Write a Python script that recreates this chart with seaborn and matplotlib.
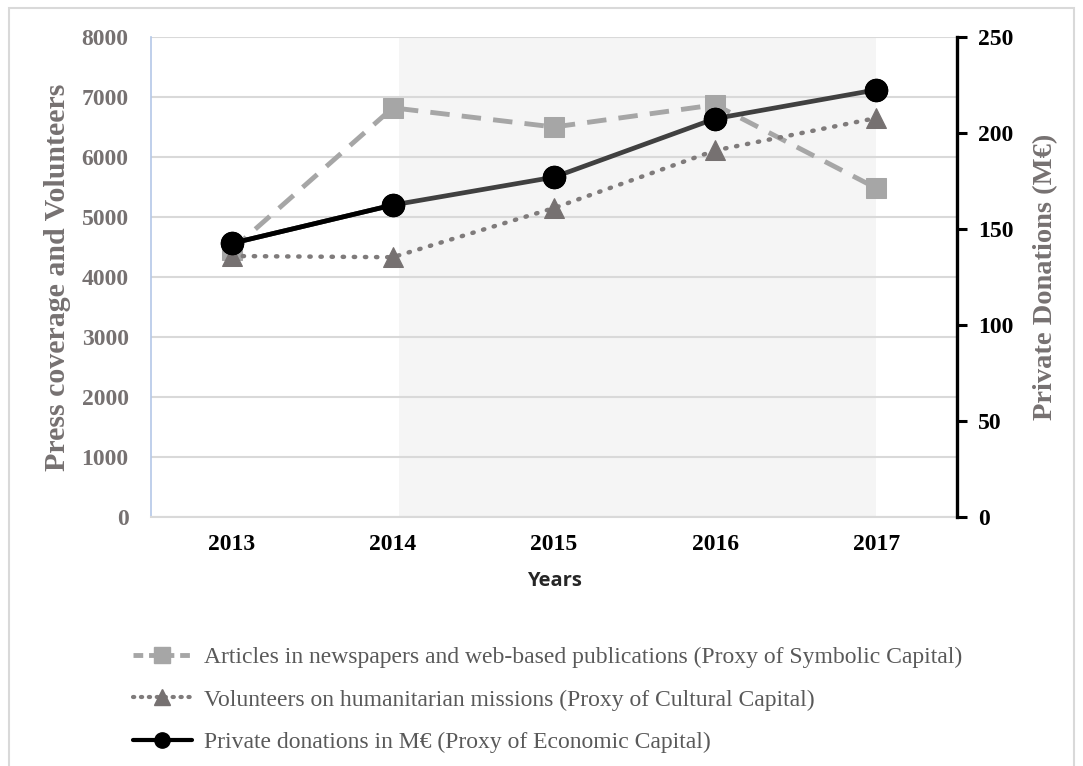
import matplotlib
matplotlib.use("Agg")
import matplotlib.pyplot as plt
import seaborn as sns
import pandas as pd
from matplotlib.lines import Line2D
from matplotlib.patches import Rectangle

years = [2013, 2014, 2015, 2016, 2017]
articles = [4450, 6820, 6500, 6870, 5480]
volunteers = [4350, 4330, 5150, 6110, 6650]
donations = [142.5, 162.5, 177, 207.5, 222.5]

label_articles = "Articles in newspapers and web-based publications (Proxy of Symbolic Capital)"
label_volunteers = "Volunteers on humanitarian missions (Proxy of Cultural Capital)"
label_donations = "Private donations in M€ (Proxy of Economic Capital)"

sns.set_theme(style="white")
plt.rcParams["font.family"] = ["Liberation Serif", "DejaVu Serif"]

df = pd.DataFrame({"year": years, "articles": articles,
                   "volunteers": volunteers, "donations": donations})

c_art = "#a6a6a6"
c_vol = "#7f7b7b"
c_vol_m = "#767171"
c_don = "#404040"
c_tick = "#767171"

fig = plt.figure(figsize=(10.83, 7.66), dpi=100)
ax = fig.add_axes([0.1394, 0.325, 0.7443, 0.6267])
ax2 = ax.twinx()

# shaded period
ax.axvspan(2014.04, 2017, color="#f5f5f5", zorder=0, lw=0)

sns.lineplot(data=df, x="year", y="articles", ax=ax, color=c_art, lw=3.5,
             linestyle=(0, (4, 2.5)), marker="s", markersize=14,
             markeredgecolor=c_art, markerfacecolor=c_art, zorder=3)
sns.lineplot(data=df, x="year", y="volunteers", ax=ax, color=c_vol, lw=3.2,
             linestyle=(0, (0.3, 2.2)), dash_capstyle="round", marker="^",
             markersize=14, markeredgecolor=c_vol_m, markerfacecolor=c_vol_m, zorder=4)
sns.lineplot(data=df, x="year", y="donations", ax=ax2, color=c_don, lw=3.4,
             marker="o", markersize=16, markeredgecolor="black",
             markerfacecolor="black", zorder=5)
# first segment of the donations line is drawn in solid black
sns.lineplot(data=df.iloc[:2], x="year", y="donations", ax=ax2, color="black",
             lw=3.4, zorder=5)
ax2.plot(df["year"], df["donations"], ls="none", marker="o", markersize=16,
         color="black", zorder=6)

ax.set_xlim(2012.5, 2017.5)
ax.set_ylim(0, 8000)
ax2.set_ylim(0, 250)
ax.set_xticks(years)
ax.set_xticklabels([str(y) for y in years], fontsize=17, fontweight="bold", color="black")
ax.set_yticks(range(0, 8001, 1000))
ax.set_yticklabels([str(v) for v in range(0, 8001, 1000)], fontsize=17,
                   fontweight="bold", color=c_tick)
ax2.set_yticks(range(0, 251, 50))
ax2.set_yticklabels([str(v) for v in range(0, 251, 50)], fontsize=17,
                    fontweight="bold", color="black")

ax.grid(axis="y", color="#d9d9d9", lw=1.5, zorder=1)
ax.set_axisbelow(True)
ax.tick_params(axis="x", length=0, pad=12)
ax.tick_params(axis="y", length=0, pad=16)
ax2.tick_params(axis="y", direction="out", length=7, width=2.2, color="black", pad=8)

for s in ["top", "right"]:
    ax.spines[s].set_visible(False)
ax.spines["left"].set_color("#b4c7e7")
ax.spines["left"].set_linewidth(1.2)
ax.spines["bottom"].set_color("#d9d9d9")
ax.spines["bottom"].set_linewidth(1.5)
for s in ["top", "left", "bottom"]:
    ax2.spines[s].set_visible(False)
ax2.spines["right"].set_color("black")
ax2.spines["right"].set_linewidth(2.4)

ax.set_xlabel("Years", fontsize=14.5, fontweight="bold", family=["Open Sans", "DejaVu Sans"],
              labelpad=12)
ax.set_ylabel("Press coverage and Volunteers", fontsize=21.5, fontweight="bold",
              color=c_tick, labelpad=8)
ax2.set_ylabel("Private Donations (M€)", fontsize=20.5, fontweight="bold",
               color=c_tick, labelpad=14)

handles = [
    Line2D([], [], color=c_art, lw=3.5, linestyle=(0, (2, 1.2)), marker="s",
           markersize=11, markerfacecolor=c_art, markeredgecolor=c_art),
    Line2D([], [], color=c_vol, lw=3, linestyle=(0, (0.3, 1.6)), dash_capstyle="round",
           marker="^", markersize=11, markerfacecolor=c_vol_m, markeredgecolor=c_vol_m),
    Line2D([], [], color="black", lw=3, marker="o", markersize=11,
           markerfacecolor="black", markeredgecolor="black"),
]
leg = fig.legend(handles, [label_articles, label_volunteers, label_donations],
                 loc="upper left", bbox_to_anchor=(0.114, 0.168), frameon=False,
                 fontsize=17, handlelength=2.5, handletextpad=0.5, labelspacing=0.88,
                 borderaxespad=0)
for t in leg.get_texts():
    t.set_color("#595959")

# chart border
fig.patches.append(Rectangle((0.008, -0.01), 0.984, 1.0, transform=fig.transFigure,
                             fill=False, edgecolor="#d9d9d9", lw=1.5))

fig.savefig("out.png", dpi=100)
